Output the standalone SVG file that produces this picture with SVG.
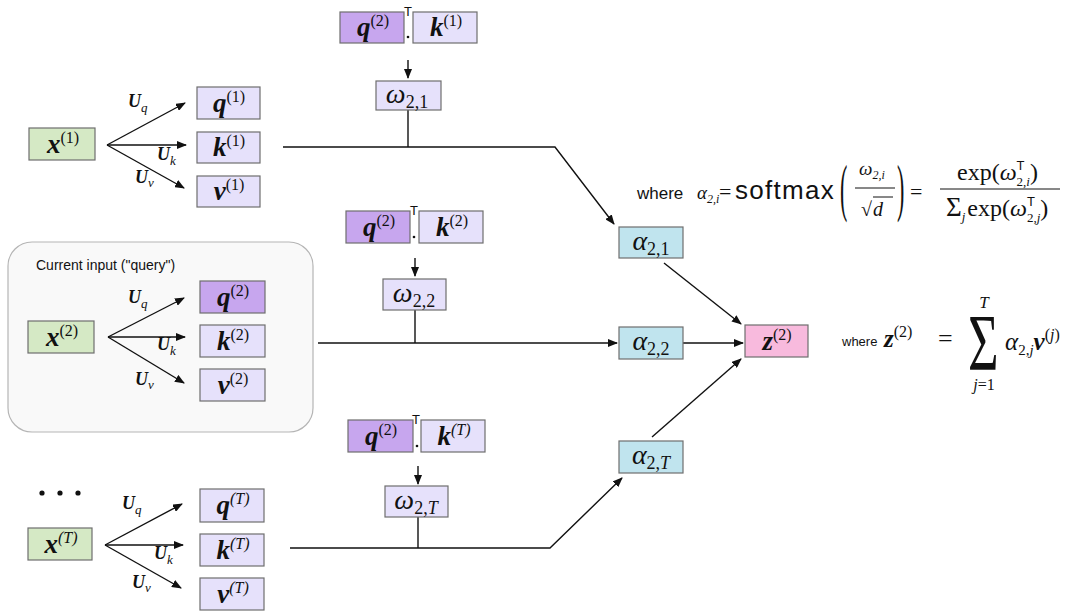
<svg xmlns="http://www.w3.org/2000/svg" width="1085" height="612" viewBox="0 0 1085 612">
<defs>
<marker id="ah" markerUnits="userSpaceOnUse" markerWidth="10" markerHeight="8" refX="9" refY="4" orient="auto">
<path d="M0,0 L10,4 L0,8 Z" fill="#111"/>
</marker>
<style>
.bx{stroke:#6e6e6e;stroke-width:1.2}
.g{fill:#d5e9c5}.l{fill:#e6e1fb}.p{fill:#c7a6ee}.c{fill:#c0e4ee}.k{fill:#f8badd}
.v{font-family:"Liberation Serif",serif;font-weight:bold;font-style:italic;font-size:27px;fill:#111}
.m{font-family:"Liberation Serif",serif;font-style:italic;font-size:28px;fill:#111}
.sup{font-size:16px;font-weight:normal;font-style:normal}
.supi{font-size:16px;font-weight:normal;font-style:italic}
.sub{font-size:18px;font-style:normal;font-weight:normal}
.u{font-family:"Liberation Serif",serif;font-weight:bold;font-style:italic;font-size:18px;fill:#111}
.us{font-size:13px;font-weight:normal}
.sans{font-family:"Liberation Sans",Arial,sans-serif;fill:#111}
.ln{stroke:#111;stroke-width:1.4;fill:none}
.f{font-family:"Liberation Serif",serif;fill:#111}
</style>
</defs>

<rect id="query-panel" x="8" y="242" width="305" height="190" rx="24" fill="#f9f9f9" stroke="#b5b5b5" stroke-width="1.2"/>
<text x="36" y="270" class="sans" font-size="14">Current input ("query")</text>

<g id="connectors">
<line class="ln" x1="107" y1="145" x2="185" y2="103" marker-end="url(#ah)"/>
<line class="ln" x1="107" y1="145" x2="186" y2="145" marker-end="url(#ah)"/>
<line class="ln" x1="107" y1="145" x2="184" y2="188" marker-end="url(#ah)"/>
<line class="ln" x1="108" y1="337" x2="184" y2="298" marker-end="url(#ah)"/>
<line class="ln" x1="108" y1="337" x2="185" y2="337" marker-end="url(#ah)"/>
<line class="ln" x1="108" y1="337" x2="184" y2="383" marker-end="url(#ah)"/>
<line class="ln" x1="105" y1="545" x2="182" y2="504" marker-end="url(#ah)"/>
<line class="ln" x1="105" y1="545" x2="183" y2="545" marker-end="url(#ah)"/>
<line class="ln" x1="105" y1="545" x2="181" y2="588" marker-end="url(#ah)"/>
<polyline class="ln" points="283,147 555,147 614,224" marker-end="url(#ah)"/>
<line class="ln" x1="408" y1="110" x2="408" y2="147"/>
<line class="ln" x1="318" y1="343" x2="617" y2="343" marker-end="url(#ah)"/>
<line class="ln" x1="415" y1="310" x2="415" y2="343"/>
<polyline class="ln" points="290,548 550,548 622,478" marker-end="url(#ah)"/>
<line class="ln" x1="418" y1="517" x2="418" y2="548"/>
<line class="ln" x1="408" y1="60" x2="408" y2="78" marker-end="url(#ah)"/>
<line class="ln" x1="415" y1="258" x2="415" y2="276" marker-end="url(#ah)"/>
<line class="ln" x1="418" y1="466" x2="418" y2="484" marker-end="url(#ah)"/>
<line class="ln" x1="664" y1="263" x2="741" y2="324" marker-end="url(#ah)"/>
<line class="ln" x1="683" y1="343" x2="743" y2="343" marker-end="url(#ah)"/>
<line class="ln" x1="652" y1="437" x2="741" y2="359" marker-end="url(#ah)"/>
</g>

<g id="U-labels">
<text class="u" x="128" y="107">U<tspan class="us" dy="5">q</tspan></text>
<text class="u" x="157" y="160">U<tspan class="us" dy="5">k</tspan></text>
<text class="u" x="135" y="183">U<tspan class="us" dy="4">v</tspan></text>
<text class="u" x="128" y="303">U<tspan class="us" dy="5">q</tspan></text>
<text class="u" x="157" y="350">U<tspan class="us" dy="5">k</tspan></text>
<text class="u" x="135" y="385">U<tspan class="us" dy="4">v</tspan></text>
<text class="u" x="122" y="509">U<tspan class="us" dy="5">q</tspan></text>
<text class="u" x="154" y="559">U<tspan class="us" dy="5">k</tspan></text>
<text class="u" x="132" y="588">U<tspan class="us" dy="4">v</tspan></text>
</g>

<g id="x1"><rect class="bx g" x="29" y="128" width="66" height="32"/><text class="v" x="63" y="153" text-anchor="middle">x<tspan class="sup" dy="-10">(1)</tspan></text></g>
<g id="q1"><rect class="bx l" x="197" y="87" width="63" height="32"/><text class="v" x="229" y="112" text-anchor="middle">q<tspan class="sup" dy="-10">(1)</tspan></text></g>
<g id="k1"><rect class="bx l" x="197" y="132" width="63" height="31"/><text class="v" x="229" y="156" text-anchor="middle">k<tspan class="sup" dy="-10">(1)</tspan></text></g>
<g id="v1"><rect class="bx l" x="197" y="176" width="63" height="31"/><text class="v" x="229" y="200" text-anchor="middle">v<tspan class="sup" dy="-10">(1)</tspan></text></g>

<g id="x2"><rect class="bx g" x="28" y="321" width="66" height="32"/><text class="v" x="62" y="346" text-anchor="middle">x<tspan class="sup" dy="-10">(2)</tspan></text></g>
<g id="q2"><rect class="bx p" x="200" y="281" width="65" height="32"/><text class="v" x="233" y="306" text-anchor="middle">q<tspan class="sup" dy="-10">(2)</tspan></text></g>
<g id="k2"><rect class="bx l" x="200" y="325" width="65" height="32"/><text class="v" x="233" y="350" text-anchor="middle">k<tspan class="sup" dy="-10">(2)</tspan></text></g>
<g id="v2"><rect class="bx l" x="200" y="369" width="65" height="32"/><text class="v" x="233" y="394" text-anchor="middle">v<tspan class="sup" dy="-10">(2)</tspan></text></g>

<g id="dots"><circle cx="42" cy="493" r="2.6" fill="#111"/><circle cx="60" cy="493" r="2.6" fill="#111"/><circle cx="78" cy="493" r="2.6" fill="#111"/></g>
<g id="xT"><rect class="bx g" x="28" y="528" width="64" height="32"/><text class="v" x="61" y="553" text-anchor="middle">x<tspan class="supi" dy="-10">(T)</tspan></text></g>
<g id="qT"><rect class="bx l" x="200" y="489" width="64" height="33"/><text class="v" x="233" y="514" text-anchor="middle">q<tspan class="supi" dy="-10">(T)</tspan></text></g>
<g id="kT"><rect class="bx l" x="200" y="534" width="64" height="32"/><text class="v" x="233" y="559" text-anchor="middle">k<tspan class="supi" dy="-10">(T)</tspan></text></g>
<g id="vT"><rect class="bx l" x="200" y="578" width="64" height="32"/><text class="v" x="233" y="603" text-anchor="middle">v<tspan class="supi" dy="-10">(T)</tspan></text></g>

<g id="dot1">
<rect class="bx p" x="340" y="12" width="64" height="31"/><text class="v" x="373" y="36" text-anchor="middle">q<tspan class="sup" dy="-10">(2)</tspan></text>
<rect class="bx l" x="413" y="12" width="64" height="31"/><text class="v" x="446" y="36" text-anchor="middle">k<tspan class="sup" dy="-10">(1)</tspan></text>
<text class="sans" x="408" y="16" font-size="13" text-anchor="middle">T</text><circle cx="408" cy="37" r="1.3" fill="#111"/>
</g>
<g id="w21"><rect class="bx l" x="376" y="81" width="65" height="29"/><text class="m" x="407" y="103" text-anchor="middle">ω<tspan class="sub" dy="5">2,1</tspan></text></g>

<g id="dot2">
<rect class="bx p" x="346" y="211" width="64" height="32"/><text class="v" x="379" y="236" text-anchor="middle">q<tspan class="sup" dy="-10">(2)</tspan></text>
<rect class="bx l" x="419" y="211" width="64" height="32"/><text class="v" x="452" y="236" text-anchor="middle">k<tspan class="sup" dy="-10">(2)</tspan></text>
<text class="sans" x="414" y="215" font-size="13" text-anchor="middle">T</text><circle cx="414" cy="237" r="1.3" fill="#111"/>
</g>
<g id="w22"><rect class="bx l" x="383" y="279" width="63" height="31"/><text class="m" x="414" y="302" text-anchor="middle">ω<tspan class="sub" dy="5">2,2</tspan></text></g>

<g id="dotT">
<rect class="bx p" x="348" y="420" width="65" height="32"/><text class="v" x="381" y="445" text-anchor="middle">q<tspan class="sup" dy="-10">(2)</tspan></text>
<rect class="bx l" x="421" y="420" width="64" height="32"/><text class="v" x="454" y="445" text-anchor="middle">k<tspan class="supi" dy="-10">(T)</tspan></text>
<text class="sans" x="416" y="424" font-size="13" text-anchor="middle">T</text><circle cx="417" cy="446" r="1.3" fill="#111"/>
</g>
<g id="w2T"><rect class="bx l" x="385" y="486" width="63" height="31"/><text class="m" x="416" y="509" text-anchor="middle">ω<tspan class="sub" dy="5">2,<tspan font-style="italic">T</tspan></tspan></text></g>

<g id="a21"><rect class="bx c" x="619" y="227" width="64" height="31"/><text class="m" x="651" y="250" text-anchor="middle">α<tspan class="sub" dy="5">2,1</tspan></text></g>
<g id="a22"><rect class="bx c" x="619" y="327" width="64" height="32"/><text class="m" x="651" y="350" text-anchor="middle">α<tspan class="sub" dy="5">2,2</tspan></text></g>
<g id="a2T"><rect class="bx c" x="619" y="441" width="64" height="32"/><text class="m" x="651" y="464" text-anchor="middle">α<tspan class="sub" dy="5">2,<tspan font-style="italic">T</tspan></tspan></text></g>
<g id="z2"><rect class="bx k" x="745" y="325" width="63" height="32"/><text class="v" x="777" y="350" text-anchor="middle">z<tspan class="sup" dy="-10">(2)</tspan></text></g>

<g id="formula-softmax">
<text class="sans" x="637" y="199" font-size="17">where</text>
<text class="f" x="697" y="199" font-style="italic" font-size="19">α<tspan font-size="12" dy="4">2,<tspan>i</tspan></tspan></text>
<text class="f" x="719" y="199" font-size="22">=</text>
<text class="sans" x="735" y="199" font-size="26" letter-spacing="1.3">softmax</text>
<text class="f" x="0" y="0" font-size="22" transform="translate(840,209) scale(1,2.9)">(</text>
<text class="f" x="859" y="175" font-style="italic" font-size="19">ω<tspan font-size="12" dy="4">2,i</tspan></text>
<line x1="855" y1="188" x2="895" y2="188" stroke="#111" stroke-width="1"/>
<text class="f" x="861" y="216" font-size="20">√<tspan font-style="italic" dx="1">d</tspan></text>
<line x1="873" y1="197" x2="893" y2="197" stroke="#111" stroke-width="1"/>
<text class="f" x="0" y="0" font-size="22" transform="translate(897,209) scale(1,2.9)">)</text>
<text class="f" x="910" y="199" font-size="22">=</text>
<text class="f" x="957" y="180" font-size="24">exp(<tspan font-style="italic">ω</tspan><tspan font-size="13" dy="-10" font-family="Liberation Sans">T</tspan><tspan font-size="13" dx="-8" dy="16">2,<tspan font-style="italic">i</tspan></tspan><tspan dy="-6">)</tspan></text>
<line x1="940" y1="189" x2="1060" y2="189" stroke="#111" stroke-width="1"/>
<text class="f" x="946" y="216" font-size="24"><tspan font-size="27">Σ</tspan><tspan font-size="13" font-style="italic" dy="5">j</tspan><tspan dy="-5" dx="2">exp(</tspan><tspan font-style="italic">ω</tspan><tspan font-size="13" dy="-10" font-family="Liberation Sans">T</tspan><tspan font-size="13" dx="-8" dy="16">2,<tspan font-style="italic">j</tspan></tspan><tspan dy="-6">)</tspan></text>
</g>

<g id="formula-z">
<text class="sans" x="842" y="346" font-size="13">where</text>
<text class="f" x="884" y="347" font-size="25" font-style="italic" font-weight="bold">z<tspan font-size="16" font-weight="normal" font-style="normal" dy="-10">(2)</tspan></text>
<text class="f" x="938" y="347" font-size="26">=</text>
<text class="f" x="0" y="0" font-size="50" transform="translate(968,370) scale(1.05,1.6)">Σ</text>
<text class="f" x="984" y="308" font-size="17" font-style="italic" text-anchor="middle">T</text>
<text class="f" x="984" y="390" font-size="16" text-anchor="middle"><tspan font-style="italic">j</tspan>=1</text>
<text class="f" x="1005" y="350" font-size="25" font-style="italic">α<tspan font-size="15" font-style="normal" dy="5">2,<tspan font-style="italic">j</tspan></tspan><tspan font-weight="bold" dy="-5">v</tspan><tspan font-size="16" font-style="normal" dy="-10">(<tspan font-style="italic">j</tspan>)</tspan></text>
</g>
</svg>
